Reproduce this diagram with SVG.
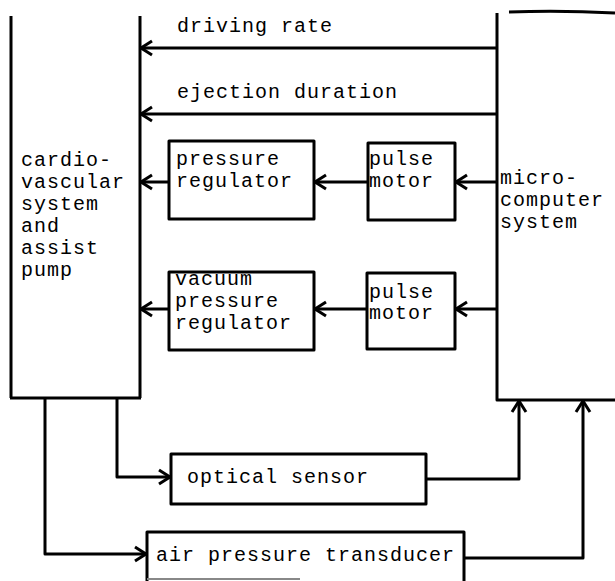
<svg xmlns="http://www.w3.org/2000/svg" width="615" height="581" viewBox="0 0 615 581">
<defs>
<style>
.box{fill:none;stroke:#000;stroke-width:3;stroke-linejoin:round}
.ln{fill:none;stroke:#000;stroke-width:3;stroke-linejoin:round}
.t{font-family:"Liberation Mono","DejaVu Sans Mono",monospace;font-size:20px;letter-spacing:1px;fill:#000}
</style>
<marker id="ah" markerUnits="userSpaceOnUse" viewBox="-13 -9 15 18" refX="0" refY="0" markerWidth="15" markerHeight="18" orient="auto">
<path d="M-11,-7 L0,0 L-11,7" fill="none" stroke="#000" stroke-width="3" stroke-linejoin="miter"/>
</marker>
</defs>
<rect width="615" height="581" fill="#fff"/>
<g id="cardio">
<path class="box" d="M11,16 V398 M140,16 V398 M10,398 H141"/>
<text class="t" x="21" y="166">cardio-</text>
<text class="t" x="21" y="188">vascular</text>
<text class="t" x="21" y="210">system</text>
<text class="t" x="21" y="232">and</text>
<text class="t" x="21" y="254">assist</text>
<text class="t" x="21" y="276">pump</text>
</g>
<g id="micro">
<path class="box" d="M497,13 V400 H615 M509,12 Q560,10 615,13"/>
<text class="t" x="500" y="184">micro-</text>
<text class="t" x="500" y="206">computer</text>
<text class="t" x="500" y="228">system</text>
</g>
<g id="preg">
<rect class="box" x="169" y="141" width="145" height="78"/>
<text class="t" x="176" y="165">pressure</text>
<text class="t" x="176" y="187">regulator</text>
</g>
<g id="pm1">
<rect class="box" x="368" y="143" width="87" height="77"/>
<text class="t" x="369" y="165">pulse</text>
<text class="t" x="369" y="187">motor</text>
</g>
<g id="vreg">
<rect class="box" x="169" y="272" width="145" height="78"/>
<text class="t" x="175" y="285">vacuum</text>
<text class="t" x="175" y="307">pressure</text>
<text class="t" x="175" y="329">regulator</text>
</g>
<g id="pm2">
<rect class="box" x="367" y="273" width="88" height="76"/>
<text class="t" x="369" y="298">pulse</text>
<text class="t" x="369" y="319">motor</text>
</g>
<g id="optical">
<rect class="box" x="171" y="454" width="255" height="50"/>
<text class="t" x="187" y="483">optical sensor</text>
</g>
<g id="air">
<path class="box" d="M147,583 V532 H464 V583"/>
<path d="M147,579 H300" stroke="#888" stroke-width="2" fill="none"/>
<text class="t" x="156" y="561">air pressure transducer</text>
</g>
<g id="labels">
<text class="t" x="177" y="32">driving rate</text>
<text class="t" x="177" y="98">ejection duration</text>
</g>
<g id="connectors">
<line class="ln" x1="497" y1="48" x2="141" y2="48" marker-end="url(#ah)"/>
<line class="ln" x1="497" y1="114" x2="141" y2="114" marker-end="url(#ah)"/>
<line class="ln" x1="497" y1="182" x2="456" y2="182" marker-end="url(#ah)"/>
<line class="ln" x1="368" y1="182" x2="315" y2="182" marker-end="url(#ah)"/>
<line class="ln" x1="169" y1="182" x2="141" y2="182" marker-end="url(#ah)"/>
<line class="ln" x1="497" y1="309" x2="456" y2="309" marker-end="url(#ah)"/>
<line class="ln" x1="367" y1="309" x2="315" y2="309" marker-end="url(#ah)"/>
<line class="ln" x1="169" y1="309" x2="141" y2="309" marker-end="url(#ah)"/>
<polyline class="ln" points="117,398 117,477 170,477" marker-end="url(#ah)"/>
<polyline class="ln" points="45,398 45,554 146,554" marker-end="url(#ah)"/>
<polyline class="ln" points="426,479 519,479 519,401" marker-end="url(#ah)"/>
<polyline class="ln" points="464,558 583,558 583,401" marker-end="url(#ah)"/>
</g>
</svg>
